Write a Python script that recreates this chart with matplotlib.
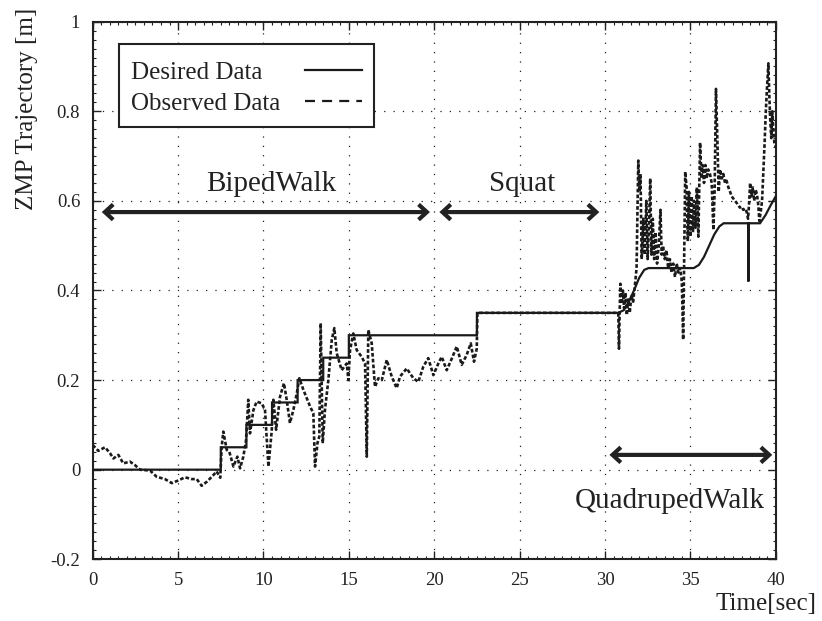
import matplotlib
matplotlib.use("Agg")
import matplotlib.pyplot as plt
from matplotlib.patches import FancyArrowPatch, Rectangle
from matplotlib.lines import Line2D
from matplotlib.ticker import MultipleLocator

plt.rcParams['font.family'] = ['Liberation Serif', 'DejaVu Serif']

# ---------------- data ----------------
t_desired = [0, 7.5, 7.5, 9.0, 9.0, 10.5, 10.5, 12.0, 12.0, 13.5, 13.5, 15.0, 15.0,
             22.5, 22.5, 30.78, 31.1, 31.4, 31.7, 32.0, 32.3, 32.55, 35.2, 35.5,
             35.8, 36.1, 36.4, 36.7, 36.95, 38.4, 38.4, 38.4, 39.08, 39.4, 39.7, 40.0]
v_desired = [0, 0, 0.05, 0.05, 0.10, 0.10, 0.15, 0.15, 0.20, 0.20, 0.25, 0.25, 0.30,
             0.30, 0.35, 0.35, 0.356, 0.375, 0.40, 0.428, 0.446, 0.45, 0.45, 0.457,
             0.475, 0.50, 0.525, 0.543, 0.55, 0.55, 0.42, 0.55, 0.55, 0.568, 0.59, 0.61]

t_observed = [0, 0.33, 0.72, 1.01, 1.21, 1.5, 1.79, 2.18, 2.48, 2.77, 3.36, 3.75, 4.23,
              4.63, 5.02, 5.4, 5.8, 6.09, 6.38, 6.68, 6.97, 7.26, 7.47, 7.55, 7.65, 7.85,
              8.0, 8.24, 8.47, 8.63, 8.82, 8.98, 9.11, 9.21, 9.41, 9.6, 9.9, 10.09, 10.29,
              10.48, 10.58, 10.74, 10.97, 11.2, 11.36, 11.55, 11.75, 11.95, 12.1, 12.34,
              12.73, 12.92, 13.02, 13.16, 13.27, 13.35, 13.47, 13.6, 13.8, 14.0, 14.15,
              14.29, 14.58, 14.88, 14.97, 15.07, 15.26, 15.46, 15.75, 15.95, 16.05, 16.14,
              16.34, 16.53, 16.73, 16.93, 17.22, 17.51, 17.8, 18.0, 18.39, 18.78, 19.07,
              19.36, 19.65, 19.95, 20.24, 20.44, 20.73, 21.03, 21.32, 21.61, 21.9, 22.14,
              22.33, 22.49, 22.53, 30.78,
              30.82, 30.86, 30.9, 30.98, 31.05, 31.12, 31.2, 31.28, 31.36, 31.45, 31.55,
              31.65, 31.75, 31.85, 31.95, 32.02, 32.08, 32.15, 32.25, 32.33, 32.42, 32.5,
              32.58, 32.65, 32.72, 32.8, 32.88, 32.96, 33.05, 33.15, 33.25, 33.32, 33.4,
              33.5, 33.6, 33.7, 33.8, 33.9, 34.0, 34.1, 34.2, 34.3, 34.4, 34.5, 34.58,
              34.65, 34.7, 34.78, 34.85, 34.92, 35.0, 35.08, 35.15, 35.22, 35.3, 35.38,
              35.47, 35.57, 35.65, 35.72, 35.8, 35.88, 35.96, 36.05, 36.15, 36.25, 36.35,
              36.42, 36.5, 36.58, 36.66, 36.74, 36.84, 36.93, 37.03, 37.12, 37.23, 37.33,
              37.42, 37.52, 37.62, 37.72, 37.81, 37.9, 38.01, 38.1, 38.2, 38.3, 38.38,
              38.45, 38.5, 38.58, 38.66, 38.74, 38.82, 38.9, 38.98, 39.04, 39.12, 39.2,
              39.27, 39.35, 39.42, 39.5, 39.57, 39.63, 39.68, 39.74, 39.8, 39.86, 39.92, 40.0]
v_observed = [0.055, 0.042, 0.05, 0.037, 0.025, 0.033, 0.014, 0.018, 0.010, 0.0, -0.002,
              -0.016, -0.021, -0.030, -0.024, -0.017, -0.021, -0.021, -0.036, -0.027,
              -0.016, -0.004, -0.018, 0.05, 0.085, 0.044, 0.04, 0.007, 0.029, 0.003, 0.029,
              0.066, 0.156, 0.081, 0.133, 0.152, 0.148, 0.133, 0.007, 0.085, 0.156, 0.089,
              0.163, 0.193, 0.156, 0.104, 0.133, 0.17, 0.204, 0.178, 0.141, 0.126, 0.007,
              0.059, 0.074, 0.327, 0.059, 0.133, 0.2, 0.29, 0.316, 0.26, 0.222, 0.237, 0.2,
              0.267, 0.304, 0.267, 0.252, 0.237, 0.029, 0.312, 0.282, 0.185, 0.204, 0.2,
              0.245, 0.208, 0.182, 0.208, 0.226, 0.204, 0.196, 0.23, 0.249, 0.211, 0.237,
              0.252, 0.222, 0.248, 0.275, 0.234, 0.256, 0.282, 0.241, 0.27, 0.35, 0.35,
              0.27, 0.35, 0.415, 0.37, 0.40, 0.36, 0.395, 0.345, 0.38, 0.35, 0.39,
              0.375, 0.41, 0.45, 0.69, 0.62, 0.66, 0.47, 0.56, 0.48, 0.60, 0.47,
              0.55, 0.65, 0.48, 0.56, 0.47, 0.53, 0.46, 0.50, 0.58, 0.48, 0.50,
              0.47, 0.49, 0.45, 0.47, 0.44, 0.46, 0.43, 0.46, 0.44, 0.45, 0.42, 0.29,
              0.50, 0.665, 0.63, 0.51, 0.62, 0.52, 0.61, 0.53, 0.60, 0.54, 0.63,
              0.52, 0.73, 0.65, 0.68, 0.64, 0.68, 0.65, 0.67, 0.66, 0.64, 0.535,
              0.62, 0.85, 0.74, 0.62, 0.67, 0.65, 0.66, 0.64, 0.645, 0.63, 0.62,
              0.61, 0.605, 0.60, 0.595, 0.59, 0.585, 0.587, 0.58, 0.583, 0.575, 0.56,
              0.60, 0.64, 0.61, 0.63, 0.60, 0.625, 0.615, 0.59, 0.555, 0.575, 0.60,
              0.66, 0.73, 0.80, 0.86, 0.907, 0.83, 0.78, 0.74, 0.80, 0.76, 0.73, 0.72]

x_ticks = [0, 5, 10, 15, 20, 25, 30, 35, 40]
y_ticks = [-0.2, 0, 0.2, 0.4, 0.6, 0.8, 1.0]
y_tick_labels = ['-0.2', '0', '0.2', '0.4', '0.6', '0.8', '1']

phases = ['BipedWalk', 'Squat', 'QuadrupedWalk']
phase_start = [0.53, 20.3, 30.26]
phase_end = [19.75, 29.67, 39.8]
phase_arrow_y = [0.575, 0.575, 0.033]
phase_text_x = [10.45, 25.17, 33.8]
phase_text_y = [0.622, 0.622, -0.086]

# ---------------- figure ----------------
fig = plt.figure(figsize=(8.22, 6.21), dpi=100)
ax = fig.add_axes([0.1128, 0.0994, 0.8309, 0.8657])

ax.set_xlim(0, 40)
ax.set_ylim(-0.2, 1.0)
ax.set_xticks(x_ticks)
ax.set_xticklabels([str(v) for v in x_ticks])
ax.set_yticks(y_ticks)
ax.set_yticklabels(y_tick_labels)
ax.xaxis.set_minor_locator(MultipleLocator(0.5))
ax.yaxis.set_minor_locator(MultipleLocator(0.02))
ax.tick_params(which='both', direction='in', top=True, right=True, colors='#222222',
               labelcolor='#222222')
ax.tick_params(which='major', length=5.5, width=1.0, labelsize=13.5)
ax.tick_params(which='minor', length=2.2, width=0.8)
ax.tick_params(axis='x', which='major', pad=9)
ax.tick_params(axis='y', which='major', pad=9)
for s in ax.spines.values():
    s.set_linewidth(1.5)
    s.set_color('#222222')

ax.grid(True, which='major', color='#222222', linewidth=0.9, linestyle=(0, (1, 6.5)))

ax.plot(t_desired, v_desired, color='#1a1a1a', lw=1.6, solid_joinstyle='miter', zorder=3)
ax.plot(t_observed, v_observed, color='#1a1a1a', lw=1.9, linestyle=(0, (1.4, 0.8)), zorder=3)

for name, s, e, ay, tx, ty in zip(phases, phase_start, phase_end, phase_arrow_y,
                                  phase_text_x, phase_text_y):
    arr = FancyArrowPatch((s, ay), (e, ay), arrowstyle='<->,head_length=6,head_width=5.5',
                          mutation_scale=1, lw=3.0, color='#222222', shrinkA=0, shrinkB=0,
                          joinstyle='miter', capstyle='butt', zorder=4)
    ax.add_patch(arr)
    ax.text(tx, ty, name, ha='center', va='baseline', fontsize=21, color='#222222', zorder=4)

# legend (drawn manually to mimic layout)
box = Rectangle((0.0389, 0.8047), 0.4119 - 0.0389, 0.9580 - 0.8047, transform=ax.transAxes,
                facecolor='white', edgecolor='#222222', lw=1.5, zorder=5)
ax.add_patch(box)
ax.text(0.0556, 0.8934, 'Desired Data', transform=ax.transAxes, fontsize=18,
        va='baseline', ha='left', color='#222222', zorder=6)
ax.text(0.0556, 0.8358, 'Observed Data', transform=ax.transAxes, fontsize=18,
        va='baseline', ha='left', color='#222222', zorder=6)
ax.add_line(Line2D([0.3109, 0.3939], [0.9102, 0.9102], transform=ax.transAxes,
                   color='#1a1a1a', lw=1.6, zorder=6))
ax.add_line(Line2D([0.3109, 0.3939], [0.8531, 0.8531], transform=ax.transAxes,
                   color='#1a1a1a', lw=1.6, linestyle=(0, (4.5, 3.2)), zorder=6))

fig.text(26.7 / 822, 1 - 108.5 / 621, 'ZMP Trajectory [m]', rotation=90, ha='center',
         va='center', fontsize=18, color='#222222')
fig.text(816.7 / 822, 1 - 610 / 621, 'Time[sec]', ha='right', va='baseline', fontsize=18,
         color='#222222')

fig.savefig('out.png', dpi=100)
